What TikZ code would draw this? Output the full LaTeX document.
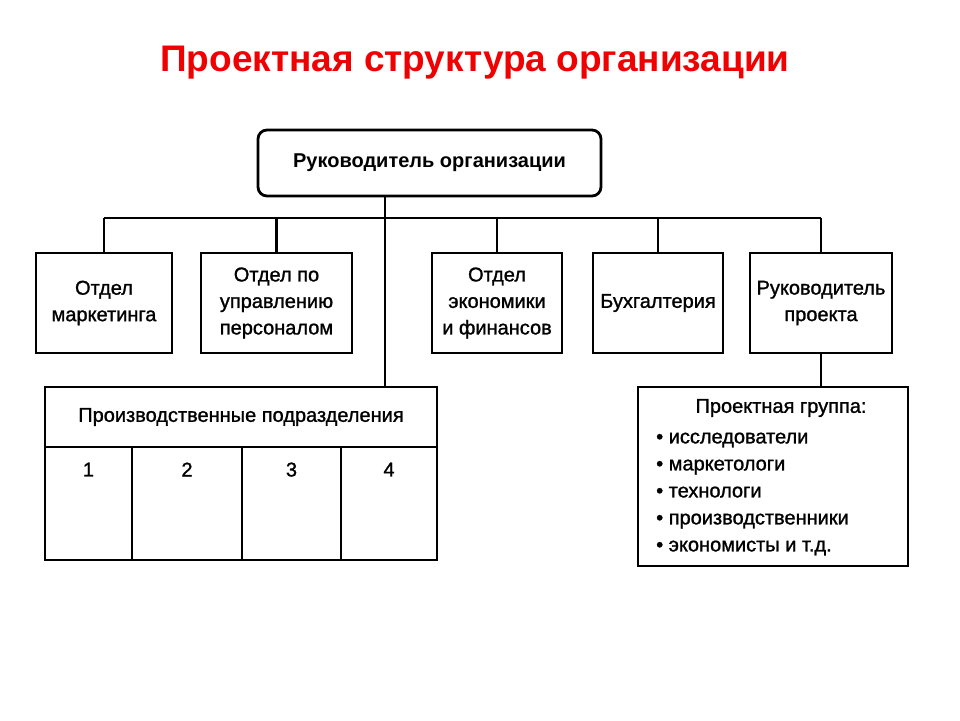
\documentclass[tikz,border=0pt]{standalone}
\usepackage{fontspec}
\setmainfont{Liberation Sans}
\newfontfamily\medfont[FakeBold=1.2]{Liberation Sans}
\definecolor{titlered}{RGB}{240,0,0}
\begin{document}
\begin{tikzpicture}[x=1pt,y=-1pt,
  box/.style={draw, line width=2.8pt, align=center, inner sep=0pt,
    font=\medfont\fontsize{20}{26.5}\selectfont},
  conn/.style={line width=2.5pt},
  txt/.style={inner sep=0pt, font=\medfont\fontsize{20}{26.5}\selectfont}
]
\useasboundingbox[fill=white] (0,0) rectangle (960,720);
\node[inner sep=0pt, font=\bfseries\fontsize{37}{42}\selectfont, text=titlered] (title) at (475,63) {Проектная структура организации};

\node[box, rounded corners=9pt, minimum width=343pt, minimum height=66pt,
  font=\bfseries\fontsize{20}{24}\selectfont] (top) at (429.5,163) {Руководитель организации};

\node[box, minimum width=136pt, minimum height=100pt] (mk) at (104,303) {Отдел\\маркетинга};
\node[box, minimum width=151pt, minimum height=100pt] (pers) at (276.5,303) {Отдел по\\управлению\\персоналом};
\node[box, minimum width=130pt, minimum height=100pt] (econ) at (497,303) {Отдел\\экономики\\и финансов};
\node[box, minimum width=130pt, minimum height=100pt] (acc) at (658,303) {Бухгалтерия};
\node[box, minimum width=142pt, minimum height=100pt] (pm) at (821,303) {Руководитель\\проекта};

\node[box, minimum width=392pt, minimum height=60pt] (prodhead) at (241,417) {Производственные подразделения};
\node[box, minimum width=87pt, minimum height=113pt] (c1) at (88.5,503.5) {};
\node[box, minimum width=110pt, minimum height=113pt] (c2) at (187,503.5) {};
\node[box, minimum width=99pt, minimum height=113pt] (c3) at (291.5,503.5) {};
\node[box, minimum width=96pt, minimum height=113pt] (c4) at (389,503.5) {};
\foreach \c/\n in {c1/1,c2/2,c3/3,c4/4}
  \node[txt] (n\n) at ([yshift=-24pt]\c.north) {\n};

\node[box, minimum width=270pt, minimum height=179pt] (pg) at (773,476.5) {};
\node[txt] (pgtitle) at (781,408) {Проектная группа:};
\node[txt, anchor=west, align=left, font=\medfont\fontsize{20}{27}\selectfont] (pglist) at (656,494)
  {• исследователи\\• маркетологи\\• технологи\\• производственники\\• экономисты и т.д.};

\coordinate (bus) at (0,218);
\coordinate (trunk) at (385,0);
\draw[conn] (mk.north |- bus) -- (pm.north |- bus);
\draw[conn] (trunk |- top.south) -- (trunk |- prodhead.north);
\foreach \n in {mk,pers,econ,acc,pm}
  \draw[conn] (\n.north) -- (\n.north |- bus);
\draw[conn] (pm.south) -- (pm.south |- pg.north);
\end{tikzpicture}
\end{document}
